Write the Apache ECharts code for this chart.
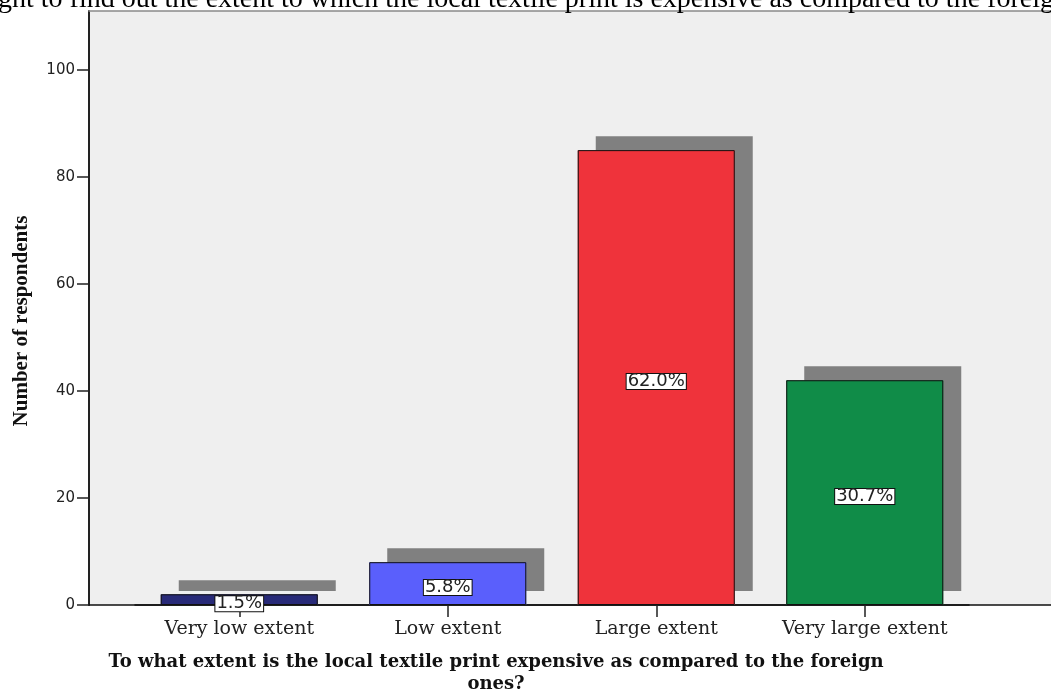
<!DOCTYPE html>
<html>
<head>
<meta charset="utf-8">
<script src="https://cdn.jsdelivr.net/npm/echarts@6/dist/echarts.min.js"></script>
<style>
  html, body { margin: 0; padding: 0; background: #ffffff; }
  #chart { width: 1051px; height: 691px; }
</style>
</head>
<body>
<div id="chart"></div>
<script>
// Survey answers: count of respondents per category
const categories = ['Very low extent', 'Low extent', 'Large extent', 'Very large extent'];
const respondents = [2, 8, 85, 42];
const barColors = ['#282a78', '#5a5ffc', '#ef333b', '#108c48'];
const yTicks = [0, 20, 40, 60, 80, 100];

const total = respondents.reduce((a, b) => a + b, 0);

const chart = echarts.init(document.getElementById('chart'), null, { renderer: 'canvas' });

const yRange = { min: 0, max: 111 };

chart.setOption({
  animation: false,
  backgroundColor: '#ffffff',
  title: {
    text: 'ght to find out the extent to which the local textile print is expensive as compared to the foreign ones',
    left: -2,
    top: -14,
    padding: 0,
    textStyle: { fontFamily: 'Liberation Serif', fontSize: 28, fontWeight: 'normal', color: '#000' }
  },
  grid: [
    // frame: grey panel, y axis and baseline
    { left: 89, top: 11, right: -30, bottom: 86, show: true, backgroundColor: '#efefef', borderWidth: 0 },
    // bars
    { left: 135, top: 11, width: 834, bottom: 86 }
  ],
  xAxis: [
    { gridIndex: 0, type: 'value', min: 0, max: 1, position: 'bottom',
      axisLine: { show: true, lineStyle: { color: '#111', width: 1.5 } },
      axisTick: { show: false }, axisLabel: { show: false }, splitLine: { show: false } },
    { gridIndex: 0, type: 'value', min: 0, max: 1, position: 'top',
      axisLine: { show: true, lineStyle: { color: '#8a8a8a', width: 1.5 } },
      axisTick: { show: false }, axisLabel: { show: false }, splitLine: { show: false } },
    { gridIndex: 1, type: 'category', data: categories,
      axisLine: { show: true, lineStyle: { color: '#111', width: 1.5 } },
      axisTick: { show: true, interval: 0, alignWithLabel: true, length: 12, lineStyle: { color: '#222', width: 1.5 } },
      axisLabel: { interval: 0, margin: 15, fontFamily: 'DejaVu Serif', fontSize: 19, color: '#222' },
      splitLine: { show: false } }
  ],
  yAxis: [
    { gridIndex: 0, type: 'value', min: yRange.min, max: yRange.max,
      name: 'Number of respondents', nameLocation: 'middle', nameGap: 57, nameRotate: 90,
      nameTextStyle: { fontFamily: 'Liberation Serif', fontWeight: 'bold', fontSize: 21, color: '#111',
                       padding: [0, 26, 0, 0] },
      axisLine: { show: true, lineStyle: { color: '#222', width: 2 } },
      axisTick: { show: true, length: 12, customValues: yTicks, lineStyle: { color: '#222', width: 1.5 } },
      axisLabel: { margin: 14, customValues: yTicks, fontFamily: 'DejaVu Sans', fontSize: 15, color: '#222' },
      splitLine: { show: false } },
    { gridIndex: 1, type: 'value', min: yRange.min, max: yRange.max, show: false }
  ],
  graphic: [
    {
      type: 'text', x: 496, y: 651,
      style: {
        text: 'To what extent is the local textile print expensive as compared to the foreign\nones?',
        align: 'center', verticalAlign: 'top',
        font: 'bold 18px "DejaVu Serif"', fill: '#111', lineHeight: 22
      }
    }
  ],
  series: [
    // filled bars with their flat grey drop shadow
    {
      type: 'bar', xAxisIndex: 2, yAxisIndex: 1,
      barWidth: '75.3%', barGap: '-100%',
      data: respondents.map((v, i) => ({ value: v, itemStyle: { color: barColors[i] } })),
      itemStyle: {
        borderWidth: 0,
        shadowColor: '#808080', shadowBlur: 0, shadowOffsetX: 18, shadowOffsetY: -14
      },
      silent: true
    },
    // outlines and percentage labels on top
    {
      type: 'bar', xAxisIndex: 2, yAxisIndex: 1,
      barWidth: '75.3%', barGap: '-100%',
      data: respondents,
      itemStyle: { color: 'rgba(0,0,0,0)', borderColor: '#111', borderWidth: 1 },
      label: {
        show: true, position: 'inside', offset: [0, 4],
        formatter: p => (p.value / total * 100).toFixed(1) + '%',
        fontFamily: 'DejaVu Sans', fontSize: 18, color: '#222',
        backgroundColor: '#ffffff', borderColor: '#111', borderWidth: 1,
        padding: [0, 1], lineHeight: 15
      }
    }
  ]
});
</script>
</body>
</html>
